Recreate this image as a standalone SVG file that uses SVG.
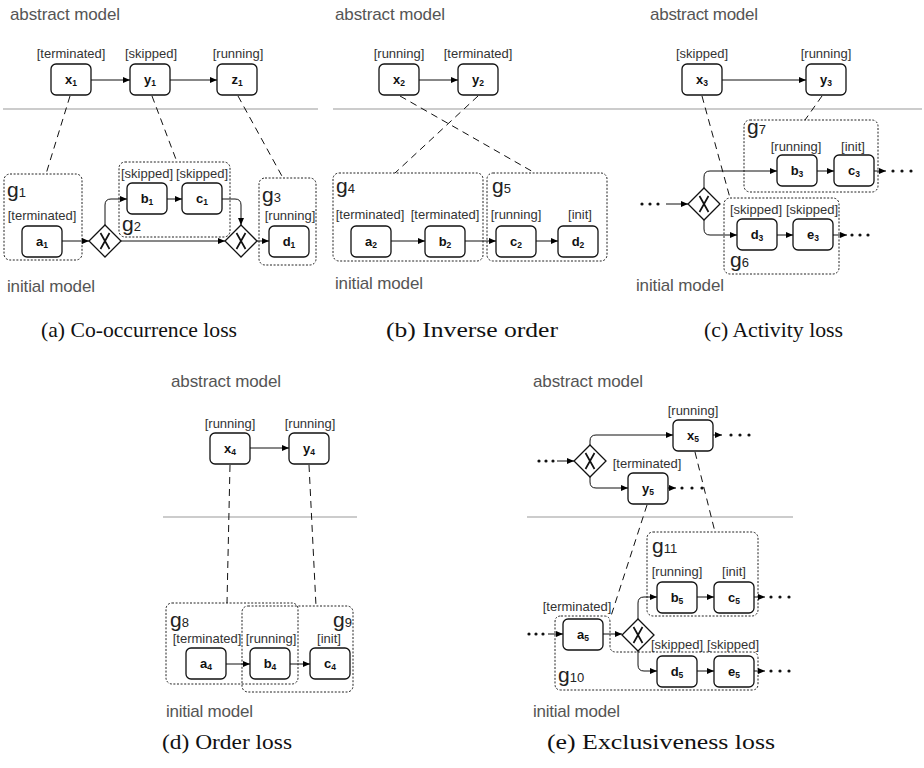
<svg xmlns="http://www.w3.org/2000/svg" width="924" height="768" viewBox="0 0 924 768">
<defs>
<marker id="arr" markerWidth="7" markerHeight="6" refX="7" refY="3" orient="auto" markerUnits="userSpaceOnUse">
<path d="M0,0 L7,3 L0,6 z" fill="#000"/>
</marker>
<style>
.bg{fill:#fff}
.node rect{fill:#fff;stroke:#111;stroke-width:1.3}
.nl{font-family:"Liberation Sans",Arial,sans-serif;font-size:13px;font-weight:bold;text-anchor:middle;fill:#111}
.sub{font-size:8.5px}
.lbl{font-family:"Liberation Sans",Arial,sans-serif;font-size:13px;text-anchor:middle;fill:#333}
.grp{fill:none;stroke:#222;stroke-width:1;stroke-dasharray:2 1.6}
.gl{font-family:"Liberation Sans",Arial,sans-serif;font-size:21px;fill:#222}
.gs{font-size:13px}
.title{font-family:"Liberation Sans",Arial,sans-serif;font-size:17px;fill:#555}
.cap{font-family:"Liberation Serif","DejaVu Serif",serif;font-size:22px;fill:#111}
.sep{stroke:#999;stroke-width:1}
.dash{stroke:#111;stroke-width:1;stroke-dasharray:7 5;fill:none}
.flow{stroke:#111;stroke-width:1;fill:none;marker-end:url(#arr)}
.gw polygon{fill:#fff;stroke:#111;stroke-width:1.3}
.gw path{stroke:#111;stroke-width:1.7;fill:none}
.dot{fill:#111}
</style>
</defs>
<rect class="bg" x="0" y="0" width="924" height="768"/>

<!-- ========== Panel (a) ========== -->
<text class="title" x="10" y="20" textLength="110">abstract model</text>
<text class="title" x="7" y="292" textLength="88">initial model</text>
<line class="sep" x1="3" y1="109" x2="318" y2="109"/>
<g id="g1"><rect class="grp" x="4" y="174" width="78" height="86" rx="6"/><text class="gl" x="7" y="197">g<tspan class="gs">1</tspan></text><text class="lbl" x="42" y="220">[terminated]</text></g>
<g id="g2"><rect class="grp" x="119" y="162" width="111" height="75" rx="6"/><text class="gl" x="122" y="231">g<tspan class="gs">2</tspan></text><text class="lbl" x="147" y="178">[skipped]</text><text class="lbl" x="202" y="178">[skipped]</text></g>
<g id="g3"><rect class="grp" x="259" y="178" width="57" height="87" rx="6"/><text class="gl" x="262" y="202">g<tspan class="gs">3</tspan></text><text class="lbl" x="290" y="220">[running]</text></g>
<g id="x1" class="node"><rect x="51" y="64" width="40" height="31" rx="5"/><text class="nl" x="71" y="84">x<tspan class="sub" dy="2">1</tspan></text><text class="lbl" x="71" y="58">[terminated]</text></g>
<g id="y1" class="node"><rect x="130" y="64" width="40" height="31" rx="5"/><text class="nl" x="150" y="84">y<tspan class="sub" dy="2">1</tspan></text><text class="lbl" x="151" y="58">[skipped]</text></g>
<g id="z1" class="node"><rect x="217" y="64" width="40" height="31" rx="5"/><text class="nl" x="237" y="84">z<tspan class="sub" dy="2">1</tspan></text><text class="lbl" x="238" y="58">[running]</text></g>
<g id="a1" class="node"><rect x="22" y="226" width="40" height="31" rx="5"/><text class="nl" x="42" y="246">a<tspan class="sub" dy="2">1</tspan></text></g>
<g id="b1" class="node"><rect x="127" y="183" width="40" height="31" rx="5"/><text class="nl" x="147" y="203">b<tspan class="sub" dy="2">1</tspan></text></g>
<g id="c1" class="node"><rect x="182" y="183" width="40" height="31" rx="5"/><text class="nl" x="202" y="203">c<tspan class="sub" dy="2">1</tspan></text></g>
<g id="d1" class="node"><rect x="269" y="226" width="40" height="31" rx="5"/><text class="nl" x="289" y="246">d<tspan class="sub" dy="2">1</tspan></text></g>
<g id="gwa1" class="gw"><polygon points="105,225 121,241 105,257 89,241"/><path d="M100.5,233 L109.5,249 M109.5,233 L100.5,249"/></g>
<g id="gwa2" class="gw"><polygon points="241,225 257,241 241,257 225,241"/><path d="M236.5,233 L245.5,249 M245.5,233 L236.5,249"/></g>

<!-- ========== Panel (b) ========== -->
<text class="title" x="335" y="20" textLength="110">abstract model</text>
<text class="title" x="335" y="289" textLength="88">initial model</text>
<line class="sep" x1="333" y1="109" x2="620" y2="109"/>
<g id="g4"><rect class="grp" x="333" y="173" width="150" height="88" rx="6"/><text class="gl" x="336" y="193">g<tspan class="gs">4</tspan></text><text class="lbl" x="370" y="219">[terminated]</text><text class="lbl" x="445" y="219">[terminated]</text></g>
<g id="g5"><rect class="grp" x="487" y="173" width="120" height="88" rx="6"/><text class="gl" x="492" y="193">g<tspan class="gs">5</tspan></text><text class="lbl" x="516" y="219">[running]</text><text class="lbl" x="580" y="219">[init]</text></g>
<g id="x2" class="node"><rect x="379" y="64" width="40" height="31" rx="5"/><text class="nl" x="399" y="84">x<tspan class="sub" dy="2">2</tspan></text><text class="lbl" x="399" y="58">[running]</text></g>
<g id="y2" class="node"><rect x="458" y="64" width="40" height="31" rx="5"/><text class="nl" x="478" y="84">y<tspan class="sub" dy="2">2</tspan></text><text class="lbl" x="478" y="58">[terminated]</text></g>
<g id="a2" class="node"><rect x="351" y="226" width="40" height="31" rx="5"/><text class="nl" x="371" y="246">a<tspan class="sub" dy="2">2</tspan></text></g>
<g id="b2" class="node"><rect x="425" y="226" width="40" height="31" rx="5"/><text class="nl" x="445" y="246">b<tspan class="sub" dy="2">2</tspan></text></g>
<g id="c2" class="node"><rect x="496" y="226" width="40" height="31" rx="5"/><text class="nl" x="516" y="246">c<tspan class="sub" dy="2">2</tspan></text></g>
<g id="d2" class="node"><rect x="558" y="226" width="40" height="31" rx="5"/><text class="nl" x="578" y="246">d<tspan class="sub" dy="2">2</tspan></text></g>

<!-- ========== Panel (c) ========== -->
<text class="title" x="650" y="20" textLength="108">abstract model</text>
<text class="title" x="636" y="291" textLength="88">initial model</text>
<line class="sep" x1="620" y1="109" x2="922" y2="109"/>
<g id="g7"><rect class="grp" x="744" y="120" width="134" height="72" rx="6"/><text class="gl" x="747" y="134">g<tspan class="gs">7</tspan></text><text class="lbl" x="796" y="151">[running]</text><text class="lbl" x="853" y="151">[init]</text></g>
<g id="g6"><rect class="grp" x="724" y="198" width="115" height="76" rx="6"/><text class="gl" x="730" y="267">g<tspan class="gs">6</tspan></text><text class="lbl" x="756" y="214">[skipped]</text><text class="lbl" x="812" y="214">[skipped]</text></g>
<g id="x3" class="node"><rect x="682" y="64" width="40" height="31" rx="5"/><text class="nl" x="702" y="84">x<tspan class="sub" dy="2">3</tspan></text><text class="lbl" x="702" y="58">[skipped]</text></g>
<g id="y3" class="node"><rect x="806" y="64" width="40" height="31" rx="5"/><text class="nl" x="826" y="84">y<tspan class="sub" dy="2">3</tspan></text><text class="lbl" x="826" y="58">[running]</text></g>
<g id="b3" class="node"><rect x="777" y="155" width="40" height="31" rx="5"/><text class="nl" x="797" y="175">b<tspan class="sub" dy="2">3</tspan></text></g>
<g id="c3" class="node"><rect x="834" y="155" width="40" height="31" rx="5"/><text class="nl" x="854" y="175">c<tspan class="sub" dy="2">3</tspan></text></g>
<g id="d3" class="node"><rect x="737" y="219" width="40" height="31" rx="5"/><text class="nl" x="757" y="239">d<tspan class="sub" dy="2">3</tspan></text></g>
<g id="e3" class="node"><rect x="793" y="219" width="40" height="31" rx="5"/><text class="nl" x="813" y="239">e<tspan class="sub" dy="2">3</tspan></text></g>
<g id="gwc" class="gw"><polygon points="704,188 720,204 704,220 688,204"/><path d="M699.5,196 L708.5,212 M708.5,196 L699.5,212"/></g>

<!-- ========== Panel (d) ========== -->
<text class="title" x="171" y="387" textLength="110">abstract model</text>
<text class="title" x="166" y="717" textLength="87">initial model</text>
<line class="sep" x1="163" y1="517" x2="357" y2="517"/>
<g id="g8"><rect class="grp" x="166" y="603" width="132" height="81" rx="6"/><text class="gl" x="170" y="627">g<tspan class="gs">8</tspan></text><text class="lbl" x="207" y="643">[terminated]</text></g>
<g id="g9"><rect class="grp" x="242" y="606" width="111" height="86" rx="6"/><text class="gl" x="333" y="627">g<tspan class="gs">9</tspan></text><text class="lbl" x="271" y="643">[running]</text><text class="lbl" x="329" y="643">[init]</text></g>
<g id="x4" class="node"><rect x="210" y="433" width="40" height="31" rx="5"/><text class="nl" x="230" y="453">x<tspan class="sub" dy="2">4</tspan></text><text class="lbl" x="230" y="428">[running]</text></g>
<g id="y4" class="node"><rect x="289" y="433" width="40" height="31" rx="5"/><text class="nl" x="309" y="453">y<tspan class="sub" dy="2">4</tspan></text><text class="lbl" x="310" y="428">[running]</text></g>
<g id="a4" class="node"><rect x="186" y="648" width="40" height="31" rx="5"/><text class="nl" x="206" y="668">a<tspan class="sub" dy="2">4</tspan></text></g>
<g id="b4" class="node"><rect x="250" y="648" width="40" height="31" rx="5"/><text class="nl" x="270" y="668">b<tspan class="sub" dy="2">4</tspan></text></g>
<g id="c4" class="node"><rect x="310" y="648" width="40" height="31" rx="5"/><text class="nl" x="330" y="668">c<tspan class="sub" dy="2">4</tspan></text></g>

<!-- ========== Panel (e) ========== -->
<text class="title" x="533" y="387" textLength="110">abstract model</text>
<text class="title" x="533" y="717" textLength="87">initial model</text>
<line class="sep" x1="527" y1="517" x2="793" y2="517"/>
<g id="g11"><rect class="grp" x="647" y="532" width="111" height="84" rx="6"/><text class="gl" x="652" y="553">g<tspan class="gs">11</tspan></text><text class="lbl" x="677" y="576">[running]</text><text class="lbl" x="734" y="576">[init]</text></g>
<g id="g10"><path class="grp" d="M561,616 H604 Q610,616 610,622 V646 Q610,652 616,652 H752 Q758,652 758,658 V684 Q758,690 752,690 H561 Q555,690 555,684 V622 Q555,616 561,616 Z"/><text class="gl" x="558" y="682">g<tspan class="gs">10</tspan></text><text class="lbl" x="577" y="611">[terminated]</text><text class="lbl" x="677" y="649">[skipped]</text><text class="lbl" x="733" y="649">[skipped]</text></g>
<g id="x5" class="node"><rect x="673" y="420" width="40" height="31" rx="5"/><text class="nl" x="693" y="440">x<tspan class="sub" dy="2">5</tspan></text><text class="lbl" x="693" y="415">[running]</text></g>
<g id="y5" class="node"><rect x="628" y="473" width="40" height="31" rx="5"/><text class="nl" x="648" y="493">y<tspan class="sub" dy="2">5</tspan></text><text class="lbl" x="647" y="468">[terminated]</text></g>
<g id="a5" class="node"><rect x="563" y="619" width="40" height="31" rx="5"/><text class="nl" x="583" y="639">a<tspan class="sub" dy="2">5</tspan></text></g>
<g id="b5" class="node"><rect x="657" y="582" width="40" height="31" rx="5"/><text class="nl" x="677" y="602">b<tspan class="sub" dy="2">5</tspan></text></g>
<g id="c5" class="node"><rect x="714" y="582" width="40" height="31" rx="5"/><text class="nl" x="734" y="602">c<tspan class="sub" dy="2">5</tspan></text></g>
<g id="d5" class="node"><rect x="657" y="656" width="40" height="31" rx="5"/><text class="nl" x="677" y="676">d<tspan class="sub" dy="2">5</tspan></text></g>
<g id="e5" class="node"><rect x="714" y="656" width="40" height="31" rx="5"/><text class="nl" x="734" y="676">e<tspan class="sub" dy="2">5</tspan></text></g>
<g id="gwe1" class="gw"><polygon points="590,445 606,461 590,477 574,461"/><path d="M585.5,453 L594.5,469 M594.5,453 L585.5,469"/></g>
<g id="gwe2" class="gw"><polygon points="638,619 654,635 638,651 622,635"/><path d="M633.5,627 L642.5,643 M642.5,627 L633.5,643"/></g>

<!-- ========== Connectors ========== -->
<g id="connectors">
<!-- (a) -->
<path class="flow" d="M91,80 H130"/>
<path class="flow" d="M170,80 H217"/>
<path class="flow" d="M62,241 H89"/>
<path class="flow" d="M105,225 V205 Q105,199 111,199 H127"/>
<path class="flow" d="M167,199 H182"/>
<path class="flow" d="M222,199 H235 Q241,199 241,205 V225"/>
<path class="flow" d="M121,241 H225"/>
<path class="flow" d="M257,241 H269"/>
<path class="dash" d="M70,96 L46,174"/>
<path class="dash" d="M152,96 L177,162"/>
<path class="dash" d="M238,96 L283,178"/>
<!-- (b) -->
<path class="flow" d="M419,80 H458"/>
<path class="flow" d="M391,241 H425"/>
<path class="flow" d="M465,241 H496"/>
<path class="flow" d="M536,241 H558"/>
<path class="dash" d="M400,96 L535,173"/>
<path class="dash" d="M478,96 L395,173"/>
<!-- (c) -->
<path class="flow" d="M722,80 H806"/>
<path class="flow" d="M666,204 H688"/>
<path class="flow" d="M704,188 V177 Q704,171 710,171 H777"/>
<path class="flow" d="M817,171 H834"/>
<path class="flow" d="M874,171 H886"/>
<path class="flow" d="M704,220 V229 Q704,235 710,235 H737"/>
<path class="flow" d="M777,235 H793"/>
<path class="flow" d="M833,235 H847"/>
<circle class="dot" cx="642" cy="204" r="1.6"/><circle class="dot" cx="650" cy="204" r="1.6"/><circle class="dot" cx="658" cy="204" r="1.6"/>
<circle class="dot" cx="893" cy="171" r="1.6"/><circle class="dot" cx="902" cy="171" r="1.6"/><circle class="dot" cx="911" cy="171" r="1.6"/>
<circle class="dot" cx="852" cy="235" r="1.6"/><circle class="dot" cx="860" cy="235" r="1.6"/><circle class="dot" cx="868" cy="235" r="1.6"/>
<path class="dash" d="M702,96 L730,198"/>
<path class="dash" d="M822,96 L805,120"/>
<!-- (d) -->
<path class="flow" d="M250,448 H289"/>
<path class="flow" d="M226,664 H250"/>
<path class="flow" d="M290,664 H310"/>
<path class="dash" d="M230,465 L227,603"/>
<path class="dash" d="M309,465 L316,606"/>
<!-- (e) -->
<path class="flow" d="M557,461 H574"/>
<path class="flow" d="M590,445 V441 Q590,435 596,435 H673"/>
<path class="flow" d="M590,477 V482 Q590,488 596,488 H628"/>
<path class="flow" d="M713,435 H722"/>
<path class="flow" d="M668,488 H676"/>
<path class="flow" d="M548,634 H563"/>
<path class="flow" d="M603,634 H622"/>
<path class="flow" d="M638,619 V603 Q638,597 644,597 H657"/>
<path class="flow" d="M697,597 H714"/>
<path class="flow" d="M754,597 H765"/>
<path class="flow" d="M638,651 V665 Q638,671 644,671 H657"/>
<path class="flow" d="M697,671 H714"/>
<path class="flow" d="M754,671 H765"/>
<circle class="dot" cx="539" cy="461" r="1.6"/><circle class="dot" cx="546" cy="461" r="1.6"/><circle class="dot" cx="553" cy="461" r="1.6"/>
<circle class="dot" cx="731" cy="435" r="1.6"/><circle class="dot" cx="740" cy="435" r="1.6"/><circle class="dot" cx="749" cy="435" r="1.6"/>
<circle class="dot" cx="682" cy="488" r="1.6"/><circle class="dot" cx="692" cy="488" r="1.6"/><circle class="dot" cx="702" cy="488" r="1.6"/>
<circle class="dot" cx="529" cy="634" r="1.6"/><circle class="dot" cx="536" cy="634" r="1.6"/><circle class="dot" cx="543" cy="634" r="1.6"/>
<circle class="dot" cx="771" cy="597" r="1.6"/><circle class="dot" cx="780" cy="597" r="1.6"/><circle class="dot" cx="789" cy="597" r="1.6"/>
<circle class="dot" cx="771" cy="671" r="1.6"/><circle class="dot" cx="780" cy="671" r="1.6"/><circle class="dot" cx="789" cy="671" r="1.6"/>
<path class="dash" d="M695,452 L715,532"/>
<path class="dash" d="M647,505 L611,616"/>
</g>

<!-- Captions -->
<text class="cap" x="41" y="337" textLength="196" lengthAdjust="spacingAndGlyphs">(a) Co-occurrence loss</text>
<text class="cap" x="386" y="337" textLength="172" lengthAdjust="spacingAndGlyphs">(b) Inverse order</text>
<text class="cap" x="704" y="337" textLength="139" lengthAdjust="spacingAndGlyphs">(c) Activity loss</text>
<text class="cap" x="162" y="749" textLength="130" lengthAdjust="spacingAndGlyphs">(d) Order loss</text>
<text class="cap" x="547" y="749" textLength="228" lengthAdjust="spacingAndGlyphs">(e) Exclusiveness loss</text>
</svg>
